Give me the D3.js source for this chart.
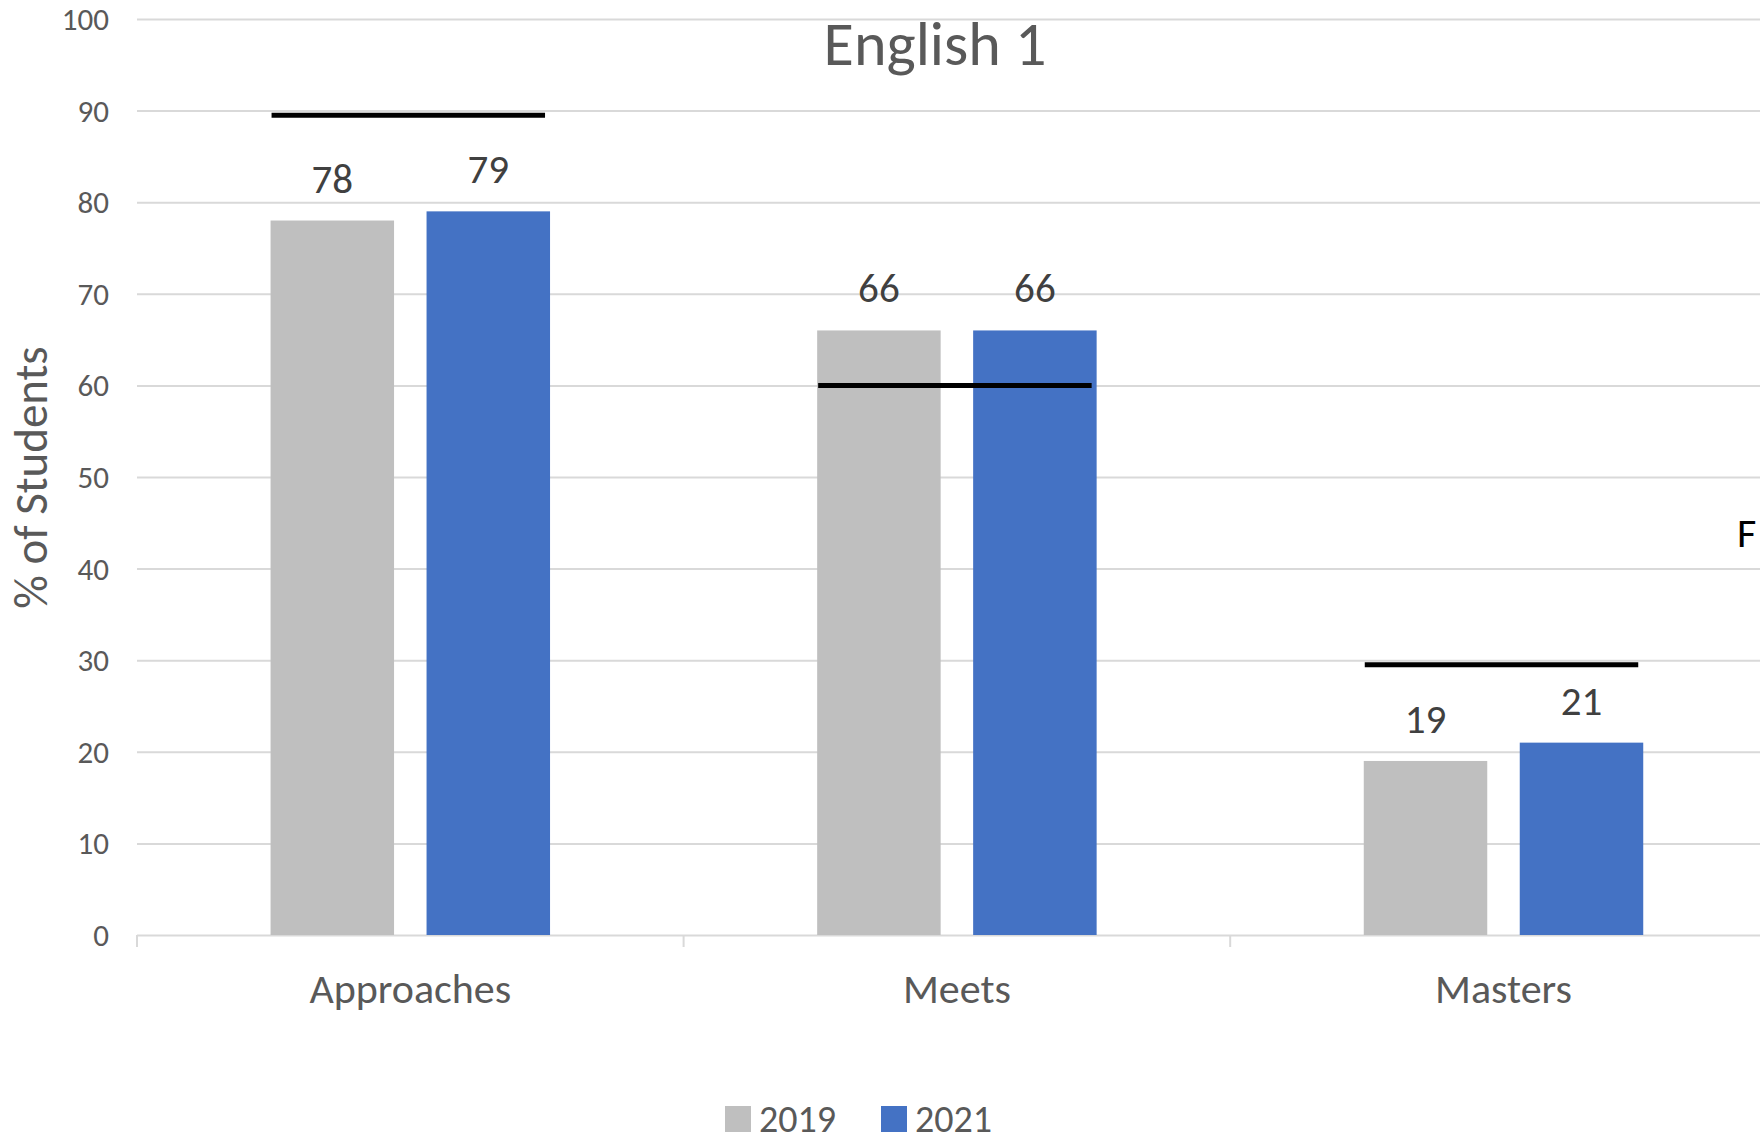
<!DOCTYPE html>
<html>
<head>
<meta charset="utf-8">
<script src="https://cdn.jsdelivr.net/npm/d3@7"></script>
<style>
  html, body { margin: 0; padding: 0; background: #fff; }
  svg { display: block; }
  text { font-family: Carlito, Lato, "Open Sans", sans-serif; }
</style>
</head>
<body>
<svg id="chart" width="1760" height="1143"></svg>
<script>
// ---- data ----
const categories = ["Approaches", "Meets", "Masters"];
const seriesNames = ["2019", "2021"];
const values2019 = [78, 66, 19];
const values2021 = [79, 66, 21];
const targets = [89.5, 60, 29.5];
const yTicks = [0, 10, 20, 30, 40, 50, 60, 70, 80, 90, 100];
const seriesColors = ["#BFBFBF", "#4472C4"];
const titleText = "English 1";
const yAxisTitle = "% of Students";

// ---- layout ----
const W = 1760, H = 1143;
const plotLeft = 137, plotRight = 137 + 3 * 546.6, plotTop = 19, plotBottom = 935;

const svg = d3.select("#chart");

const x = d3.scaleBand().domain(categories).range([plotLeft, plotRight])
  .paddingInner(0.4887).paddingOuter(0.24435);
const xs = d3.scaleBand().domain(seriesNames).range([0, x.bandwidth()])
  .paddingInner(0.2083).paddingOuter(0);
const y = d3.scaleLinear().domain([0, 100]).range([plotBottom, plotTop]);
const color = d3.scaleOrdinal().domain(seriesNames).range(seriesColors);

// gridlines
const yAxis = d3.axisLeft(y).tickValues(yTicks).tickSize(-(W - plotLeft)).tickPadding(28);
const gy = svg.append("g").attr("transform", `translate(${plotLeft},0)`).call(yAxis);
gy.select(".domain").remove();
gy.selectAll(".tick line").attr("stroke", "#D9D9D9").attr("stroke-width", 2);
gy.selectAll(".tick text").attr("fill", "#595959").style("font-size", "31px")
  .attr("dy", "0.34em");

// category axis ticks (boundaries)
const step = x.step();
const boundaries = d3.range(categories.length + 1).map(i => plotLeft + i * step);
svg.append("g").selectAll("line").data(boundaries).join("line")
  .attr("x1", d => d).attr("x2", d => d)
  .attr("y1", plotBottom).attr("y2", plotBottom + 12)
  .attr("stroke", "#D9D9D9").attr("stroke-width", 2);

// category labels
svg.append("g").selectAll("text").data(categories).join("text")
  .attr("x", d => x(d) + x.bandwidth() / 2)
  .attr("y", 1003)
  .attr("text-anchor", "middle")
  .attr("fill", "#595959")
  .style("font-size", "42px")
  .text(d => d);

// bars
const rows = categories.map((c, i) => ({ cat: c, vals: [values2019[i], values2021[i]], target: targets[i] }));
const groups = svg.append("g").selectAll("g").data(rows).join("g")
  .attr("transform", d => `translate(${x(d.cat)},0)`);

groups.selectAll("rect").data(d => d.vals.map((v, j) => ({ s: seriesNames[j], v }))).join("rect")
  .attr("x", d => xs(d.s))
  .attr("width", xs.bandwidth())
  .attr("y", d => y(d.v))
  .attr("height", d => y(0) - y(d.v))
  .attr("fill", d => color(d.s));

// data labels
groups.selectAll("text.lbl").data(d => d.vals.map((v, j) => ({ s: seriesNames[j], v }))).join("text")
  .attr("class", "lbl")
  .attr("x", d => xs(d.s) + xs.bandwidth() / 2)
  .attr("y", d => y(d.v) - 28)
  .attr("text-anchor", "middle")
  .attr("fill", "#404040")
  .style("font-size", "41px")
  .text(d => d.v);

// target lines
groups.append("line")
  .attr("x1", 1)
  .attr("x2", x.bandwidth() - 5)
  .attr("y1", d => y(d.target))
  .attr("y2", d => y(d.target))
  .attr("stroke", "#000")
  .attr("stroke-width", 5);

// title
svg.append("text")
  .attr("x", 935).attr("y", 65)
  .attr("text-anchor", "middle")
  .attr("fill", "#595959")
  .style("font-size", "62px")
  .text(titleText);

// y axis title
svg.append("text")
  .attr("transform", `translate(47,${(345 + 610) / 2}) rotate(-90)`)
  .attr("text-anchor", "middle")
  .attr("fill", "#595959")
  .style("font-size", "47px")
  .text(yAxisTitle);

// stray text at right edge
svg.append("text")
  .attr("x", 1737).attr("y", 547)
  .attr("fill", "#000")
  .style("font-size", "42px")
  .text("F");

// legend
const legend = svg.append("g").attr("transform", "translate(725,0)");
const legendX = [0, 156];
const li = legend.selectAll("g").data(seriesNames).join("g")
  .attr("transform", (d, i) => `translate(${legendX[i]},0)`);
li.append("rect").attr("x", 0).attr("y", 1106).attr("width", 26).attr("height", 26)
  .attr("fill", d => color(d));
li.append("text").attr("x", 34).attr("y", 1132)
  .attr("fill", "#595959").style("font-size", "38px").text(d => d);
</script>
</body>
</html>
